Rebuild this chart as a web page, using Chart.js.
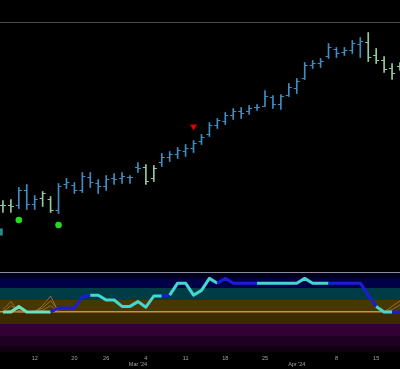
<!DOCTYPE html>
<html>
<head>
<meta charset="utf-8">
<script src="https://cdn.jsdelivr.net/npm/chart.js@4.4.1/dist/chart.umd.min.js"></script>
<style>
  body { margin: 0; background: #000; width: 400px; height: 369px; overflow: hidden; }
  #price-chart { position: absolute; left: 0; top: 0; }
  #osc-chart { position: absolute; left: 0; top: 271px; }
</style>
</head>
<body>
<canvas id="price-chart" width="400" height="271"></canvas>
<canvas id="osc-chart" width="400" height="98"></canvas>
<script>

// Price data (one bar per trading day, Feb 6 .. Apr 18 '24)

const opens  = [95,95,95,110,96,102,101,90,116,115,110,123,117,114,122,122,123,133,133,122,
                138,143,146,149,152,159,166,175,179,185,189,189,193,194,203,196,205,212,222,235,
                237,244,251,248,250,256,258,245,240,232,234];
const highs  = [100,101,113,116,105,109,104,117,122,118,128,128,121,125,127,128,125,138,136,135,
                147,149,153,156,160,166,178,182,188,192,193,195,196,210,205,206,217,222,238,240,
                242,257,253,253,260,263,268,252,244,237,238];
const lows   = [88,88,92,91,91,94,88,87,112,107,108,113,107,110,116,117,117,128,116,119,
                134,139,142,144,148,156,164,172,176,181,182,186,190,194,192,191,204,207,221,232,
                233,242,243,245,247,243,239,237,228,221,230];
const closes = [95,94,110,96,101,107,90,114,118,110,124,118,114,121,121,124,123,132,119,132,
                143,146,150,152,157,163,175,180,185,189,187,192,193,204,196,204,213,219,235,237,
                239,253,247,250,257,259,243,240,231,227,233];

// bars painted in the "weak" colour
const weakBars = [0,1,5,6,18,19,46,47,48,49,50];

// signals
const buySignals  = [{x: 2, y: 80.5}, {x: 7, y: 75.5}];
const sellSignals = [{x: 24, y: 174}];
const edgeMarker  = [{x: -0.47, y: 68.5}];

// Oscillator
const oscValues = [50,50,57,50,50,50,50,55,55,55,69,71,71,65,65,57,57,63,56,70,
                   70,71,86,86,71,77,92,86,92,86,86,86,86,86,86,86,86,86,92,86,
                   86,86,86,86,86,86,71,57,50,50,50];
// n = neutral, s = strong, c = normal (state of each segment)
const oscState = 'nnnnnnssssscccccccccsccccccssssscccccccccssssssccsnn';
const ghostA = [53,63,50,50,50,58,70,50,null,null,null,null,null,null,null,null,null,null,null,null,
                null,null,null,null,null,null,null,null,null,null,null,null,null,null,null,null,null,null,null,null,
                null,null,null,null,null,null,null,null,50,57,64];
const ghostB = [50,58,52,50,51,55,64,52,null,null,null,null,null,null,null,null,null,null,null,null,
                null,null,null,null,null,null,null,null,null,null,null,null,null,null,null,null,null,null,null,null,
                null,null,null,null,null,null,null,null,50,53,59];
const ghostC = [50,52,50,50,50,52,58,50,null,null,null,null,null,null,null,null,null,null,null,null,
                null,null,null,null,null,null,null,null,null,null,null,null,null,null,null,null,null,null,null,null,
                null,null,null,null,null,null,null,null,null,null,null];

const bandEdges  = [0,7,20,35,50,65,80,93,100];
const bandColors = ['#0f000f','#1e0022','#330033','#3a2c00','#463800','#003c46','#000046','#00001c'];

// x axis labels
const tickIdx    = [4,9,13,17,18,23,28,33,37,42,47];
const tickLabels = ['12','20','26',['',"Mar '24"],'4','11','18','25',['',"Apr '24"],'8','15'];


// Chart setup

const X_MIN = -0.37, X_MAX = 50.0;
const BLUE = '#3f8dc2', WEAK = '#98c9a2';
const idx = highs.map((_, i) => i);
const barColors = idx.map(i => weakBars.includes(i) ? WEAK : BLUE);
const stateColors = { n: '#6fe0bf', s: '#1c1cd8', c: '#45d6d0' };

const xScale = { type: 'linear', min: X_MIN, max: X_MAX, offset: false, display: false };

const priceChart = new Chart(document.getElementById('price-chart'), {
    type: 'bar',
    data: {
        datasets: [
            {
                type: 'scatter',
                data: sellSignals,
                pointStyle: 'triangle', rotation: 180, pointRadius: 4,
                pointBackgroundColor: '#e00000', pointBorderWidth: 0
            },
            {
                type: 'scatter',
                data: buySignals,
                pointStyle: 'circle', pointRadius: 3.3,
                pointBackgroundColor: '#1ee01e', pointBorderWidth: 0
            },
            {
                type: 'scatter',
                data: edgeMarker,
                pointStyle: 'rect', pointRadius: 5,
                pointBackgroundColor: '#2b8a90', pointBorderWidth: 0
            },
            {
                type: 'scatter',
                data: idx.map(i => ({x: i - 0.19, y: opens[i]})),
                pointStyle: 'line', pointRadius: 1.5,
                pointBorderColor: barColors, pointBorderWidth: 1
            },
            {
                type: 'scatter',
                data: idx.map(i => ({x: i + 0.19, y: closes[i]})),
                pointStyle: 'line', pointRadius: 1.5,
                pointBorderColor: barColors, pointBorderWidth: 1
            },
            {
                type: 'bar',
                data: idx.map(i => ({x: i, y: [lows[i], highs[i]]})),
                backgroundColor: barColors,
                barThickness: 1,
                grouped: false
            }
        ]
    },
    options: {
        responsive: false,
        animation: false,
        events: [],
        layout: { padding: 0, autoPadding: false },
        plugins: { legend: { display: false }, tooltip: { enabled: false } },
        scales: {
            x: xScale,
            y: {
                min: 29.5, max: 300.5,
                afterBuildTicks: (s) => { s.ticks = [{value: 278}]; },
                ticks: { display: false },
                border: { display: false },
                grid: { color: '#4a4a4a', lineWidth: 1, drawTicks: false }
            }
        }
    }
});

const bandPlugin = {
    id: 'bands',
    beforeDraw(chart) {
        const {ctx, chartArea, scales: {y}} = chart;
        ctx.save();
        for (let k = 0; k < bandColors.length; k++) {
            const top = y.getPixelForValue(bandEdges[k + 1]);
            const bottom = y.getPixelForValue(bandEdges[k]);
            ctx.fillStyle = bandColors[k];
            ctx.fillRect(chartArea.left, top, chartArea.right - chartArea.left, bottom - top);
        }
        ctx.restore();
    }
};

const toPoints = (arr) => arr.map((v, i) => ({x: i, y: v}));
const ghostStyle = { type: 'line', borderColor: 'rgba(170,115,55,0.85)', borderWidth: 1, pointRadius: 0, spanGaps: false };

const oscChart = new Chart(document.getElementById('osc-chart'), {
    type: 'line',
    data: {
        datasets: [
            {
                data: toPoints(oscValues),
                borderWidth: 3,
                pointRadius: 0,
                tension: 0,
                borderJoinStyle: 'round',
                segment: { borderColor: (c) => stateColors[oscState[c.p0DataIndex]] }
            },
            Object.assign({ data: toPoints(ghostA) }, ghostStyle),
            Object.assign({ data: toPoints(ghostB) }, ghostStyle),
            Object.assign({ data: toPoints(ghostC) }, ghostStyle)
        ]
    },
    options: {
        responsive: false,
        animation: false,
        events: [],
        layout: { padding: { top: 1, left: 0, right: 0, bottom: 0 }, autoPadding: false },
        plugins: { legend: { display: false }, tooltip: { enabled: false } },
        scales: {
            x: {
                type: 'linear', min: X_MIN, max: X_MAX, offset: false,
                afterBuildTicks: (s) => { s.ticks = tickIdx.map(v => ({value: v})); },
                afterFit: (s) => { s.height = 17; },
                grid: { display: false, drawTicks: false },
                border: { display: false },
                ticks: {
                    autoSkip: false, maxRotation: 0, padding: 3,
                    color: '#a4a4a4',
                    font: { family: 'Liberation Sans, Arial, sans-serif', size: 5.5, lineHeight: 1.1 },
                    callback: (value, index) => tickLabels[index]
                }
            },
            y: {
                min: 0, max: 100,
                afterBuildTicks: (s) => { s.ticks = [{value: 50}, {value: 100}]; },
                ticks: { display: false },
                border: { display: false },
                grid: {
                    drawTicks: false,
                    color: (c) => c.tick.value === 50 ? '#e08a30' : '#8c8c9c',
                    lineWidth: (c) => c.tick.value === 50 ? 1.5 : 1
                }
            }
        }
    },
    plugins: [bandPlugin]
});

</script>
</body>
</html>
